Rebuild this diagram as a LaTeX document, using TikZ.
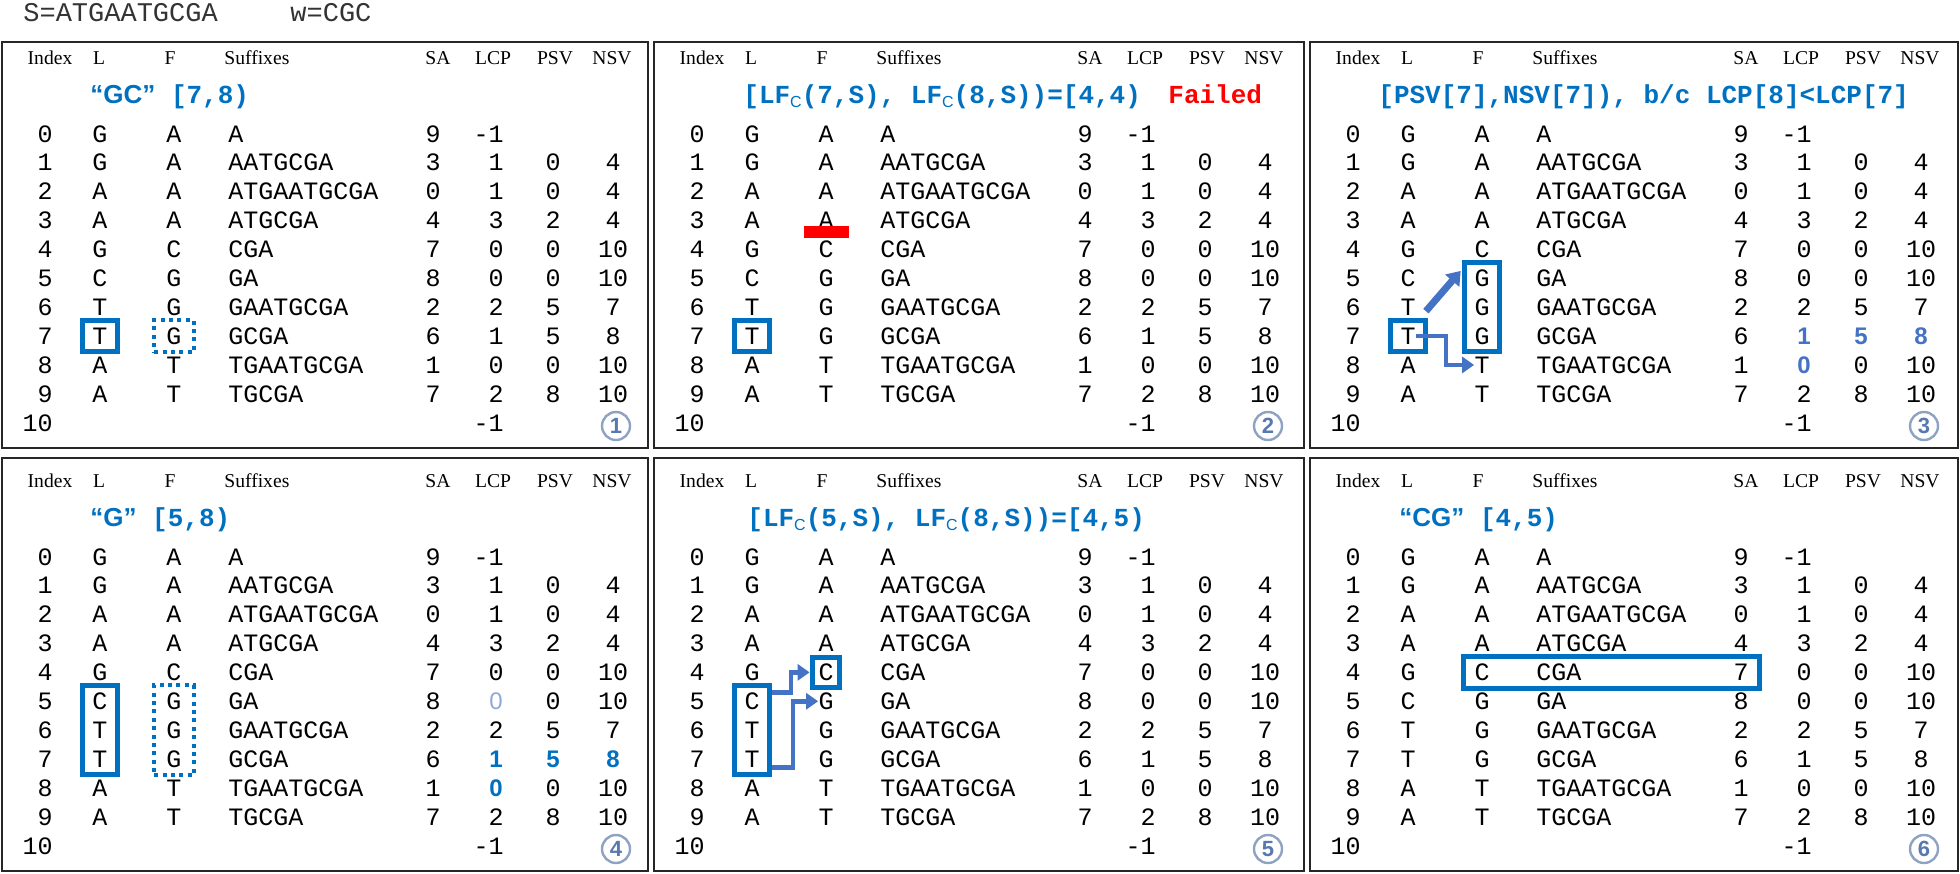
\documentclass[tikz,border=0pt]{standalone}
\usepackage{fontspec}
\usepackage{xcolor}
\usetikzlibrary{arrows.meta, positioning, calc, fit}
\newfontfamily\dnafont{Liberation Mono}
\newfontfamily\headfont{Liberation Serif}
\newfontfamily\hlfont{Liberation Sans}
\definecolor{boxblue}{HTML}{0070C0}
\definecolor{arrowblue}{HTML}{4472C4}
\definecolor{stepgray}{HTML}{8EA2C2}
\definecolor{stepblue}{HTML}{5A78B0}
\definecolor{paleblue}{HTML}{8EA9DB}
\definecolor{failred}{HTML}{FF0000}

% one panel: name, left, right, top, bottom, step number
\newcommand{\drawpanel}[6]{%
  \draw[panelframe] (#2,#4) rectangle (#3,#5);
  \pgfmathsetmacro\hdy{#5-390+6.5}
  \node[colhead] (#1-hIndex) at (#2+48,\hdy) {Index};
  \node[colhead] (#1-hL)     at (#2+97,\hdy) {L};
  \node[colhead] (#1-hF)     at (#2+168,\hdy) {F};
  \node[colhead, anchor=base west] (#1-hSuf) at (#2+222,\hdy) {Suffixes};
  \node[colhead] (#1-hSA)    at (#2+436,\hdy) {SA};
  \node[colhead] (#1-hLCP)   at (#2+491,\hdy) {LCP};
  \node[colhead] (#1-hPSV)   at (#2+553,\hdy) {PSV};
  \node[colhead] (#1-hNSV)   at (#2+610,\hdy) {NSV};
  \foreach \idx/\lch/\fch/\suf/\sav/\lcpv/\psvv/\nsvv in {%
      0/G/A/A/9/-1//, 1/G/A/AATGCGA/3/1/0/4, 2/A/A/ATGAATGCGA/0/1/0/4,
      3/A/A/ATGCGA/4/3/2/4, 4/G/C/CGA/7/0/0/10, 5/C/G/GA/8/0/0/10,
      6/T/G/GAATGCGA/2/2/5/7, 7/T/G/GCGA/6/1/5/8, 8/A/T/TGAATGCGA/1/0/0/10,
      9/A/T/TGCGA/7/2/8/10, 10/////-1//}{%
    \pgfmathsetmacro\rowy{#5-24-28.9*(10-\idx)+7}
    \node[cell, anchor=base east] (#1-I\idx)   at (#2+51,\rowy)  {\idx};
    \node[cell]                   (#1-L\idx)   at (#2+98,\rowy)  {\lch};
    \node[cell]                   (#1-F\idx)   at (#2+172,\rowy) {\fch};
    \node[cell, anchor=base west] (#1-S\idx)   at (#2+226,\rowy) {\suf};
    \node[cell]                   (#1-SA\idx)  at (#2+431,\rowy) {\sav};
    \node[cell, anchor=base east] (#1-LCP\idx) at (#2+502,\rowy) {\lcpv};
    \node[cell]                   (#1-PSV\idx) at (#2+551,\rowy) {\psvv};
    \node[cell]                   (#1-NSV\idx) at (#2+611,\rowy) {\nsvv};
  }
  \node[stepmark] (#1-step) at (#2+614,#5-22) {#6};
}

\begin{document}
\begin{tikzpicture}[
    x=0.5pt, y=-0.5pt,
    panelframe/.style={draw=black!85, line width=1pt},
    colhead/.style={font=\headfont\fontsize{9.8}{10}\selectfont, inner sep=0pt, anchor=base},
    cell/.style={font=\dnafont\fontsize{12.5}{12.5}\selectfont, inner sep=0pt, anchor=base},
    seqtext/.style={font=\dnafont\fontsize{13.5}{13.5}\selectfont, text=black!80, inner sep=0pt, anchor=base west},
    query/.style={font=\dnafont\bfseries\fontsize{13}{13}\selectfont, text=boxblue, inner sep=0pt, anchor=base west},
    failtext/.style={query, text=failred},
    hlnum/.style={font=\hlfont\bfseries\fontsize{12}{12}\selectfont, text=boxblue, fill=white, inner sep=0.5pt, anchor=base},
    selbox/.style={draw=boxblue, line width=2.5pt, inner xsep=4.8pt, inner ysep=3.5pt},
    dotbox/.style={draw=boxblue, line width=2pt, dash pattern=on 2pt off 2.2pt, inner xsep=6pt, inner ysep=3.5pt},
    failbar/.style={fill=failred, minimum width=22.5pt, minimum height=6pt, inner sep=0pt},
    bigarrow/.style={draw=arrowblue, line width=3.5pt, -{Triangle[length=6.5pt, width=9pt]}},
    elbowarrow/.style={draw=arrowblue, line width=2.4pt, -{Triangle[length=6pt, width=8pt]}},
    stepmark/.style={circle, draw=stepgray, line width=1.2pt, fill=white, minimum size=14pt,
      inner sep=0pt, text=stepblue, font=\hlfont\bfseries\fontsize{11}{11}\selectfont},
  ]
  \useasboundingbox (0,0) rectangle (1960,873);
  % string and pattern
  \node[seqtext] (seq) at (23,21) {S=ATGAATGCGA};
  \node[seqtext] (pat) at (290,21) {w=CGC};

  % the six steps
  \drawpanel{p1}{2}{648}{42}{448}{1}
  \drawpanel{p2}{654}{1304}{42}{448}{2}
  \drawpanel{p3}{1310}{1958}{42}{448}{3}
  \drawpanel{p4}{2}{648}{458}{871}{4}
  \drawpanel{p5}{654}{1304}{458}{871}{5}
  \drawpanel{p6}{1310}{1958}{458}{871}{6}

  % step 1
  \node[query] (p1-q) at (90,103) {{\hlfont “GC”} [7,8)};
  \node[selbox, fit=(p1-L7)] (p1-Lbox) {};
  \node[dotbox, fit=(p1-F7)] (p1-Fbox) {};

  % step 2
  \node[query] (p2-q) at (743,103)
    {[LF\raisebox{-0.35ex}{\hlfont\mdseries\fontsize{8}{8}\selectfont C}(7,S),
     LF\raisebox{-0.35ex}{\hlfont\mdseries\fontsize{8}{8}\selectfont C}(8,S))=[4,4)};
  \node[failtext] (p2-fail) at (1168,103) {Failed};
  \node[selbox, fit=(p2-L7)] (p2-Lbox) {};
  \node[failbar] (p2-bar) at ($(p2-F3.center)+(0,12)$) {};

  % step 3
  \node[query] (p3-q) at (1378,103) {[PSV[7],NSV[7]), b/c LCP[8]<LCP[7]};
  \node[hlnum, text=arrowblue, anchor=base east] at (p3-LCP7.base east) {1};
  \node[hlnum, text=arrowblue] at (p3-PSV7.base) {5};
  \node[hlnum, text=arrowblue] at (p3-NSV7.base) {8};
  \node[hlnum, text=arrowblue, anchor=base east] at (p3-LCP8.base east) {0};
  \node[selbox, fit=(p3-L7)] (p3-Lbox) {};
  \node[selbox, fit=(p3-F5)(p3-F7)] (p3-Fbox) {};
  \draw[bigarrow, shorten >=1pt] ([xshift=5pt, yshift=-2pt]p3-L6.east) -- (p3-Fbox.west |- p3-F5.north);
  \draw[elbowarrow] (p3-L7.east) -- ++(30,0) |- (p3-F8.west);

  % step 4
  \node[query] (p4-q) at (90,526) {{\hlfont “G”} [5,8)};
  \node[hlnum, text=paleblue, font=\hlfont\fontsize{12}{12}\selectfont, anchor=base east] at (p4-LCP5.base east) {0};
  \node[hlnum, anchor=base east] at (p4-LCP7.base east) {1};
  \node[hlnum] at (p4-PSV7.base) {5};
  \node[hlnum] at (p4-NSV7.base) {8};
  \node[hlnum, anchor=base east] at (p4-LCP8.base east) {0};
  \node[selbox, fit=(p4-L5)(p4-L7)] (p4-Lbox) {};
  \node[dotbox, fit=(p4-F5)(p4-F7)] (p4-Fbox) {};

  % step 5
  \node[query] (p5-q) at (747,526)
    {[LF\raisebox{-0.35ex}{\hlfont\mdseries\fontsize{8}{8}\selectfont C}(5,S),
     LF\raisebox{-0.35ex}{\hlfont\mdseries\fontsize{8}{8}\selectfont C}(8,S))=[4,5)};
  \node[selbox, fit=(p5-L5)(p5-L7)] (p5-Lbox) {};
  \node[selbox, inner sep=3pt, fit=(p5-F4)] (p5-Fbox) {};
  \draw[elbowarrow] (p5-Lbox.east |- p5-L5.north) -- ++(19,0) |- (p5-Fbox.west);
  \draw[elbowarrow] (p5-Lbox.east |- p5-L7.south) -- ++(21,0) |- (p5-F5.west);

  % step 6
  \node[query] (p6-q) at (1399,526) {{\hlfont “CG”} [4,5)};
  \node[selbox, inner xsep=5.5pt, fit=(p6-F4)(p6-SA4)] (p6-rowbox) {};
\end{tikzpicture}
\end{document}
